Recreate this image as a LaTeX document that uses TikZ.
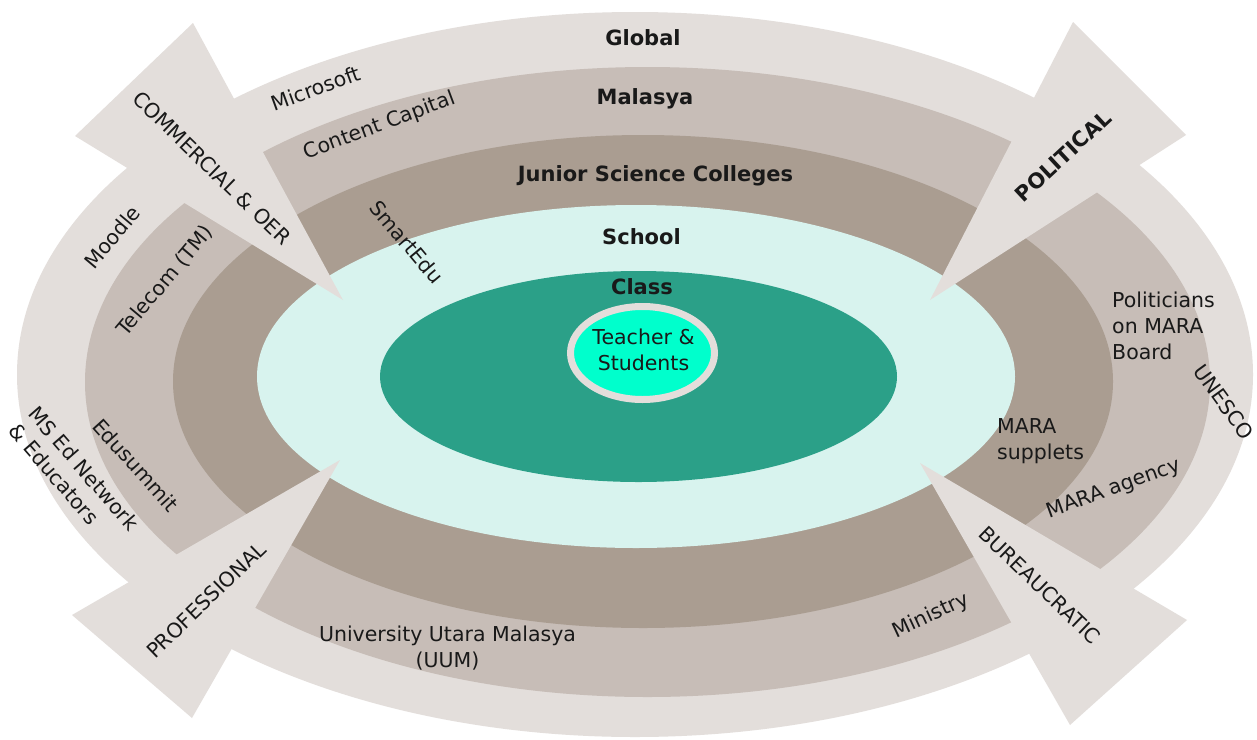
\documentclass[tikz,border=0pt]{standalone}
\usepackage{fontspec}
\setmainfont{DejaVu Sans}
\definecolor{outerc}{RGB}{227,222,219}
\definecolor{midc}{RGB}{199,189,183}
\definecolor{darkc}{RGB}{170,157,145}
\definecolor{schoolc}{RGB}{216,243,238}
\definecolor{classc}{RGB}{43,160,136}
\definecolor{aquac}{RGB}{0,255,204}
\definecolor{txtc}{RGB}{25,25,25}
\begin{document}
\begin{tikzpicture}[x=1pt,y=-1pt,
  lbl/.style={inner sep=0pt, text=txtc, font=\fontsize{20.5}{26}\selectfont},
  blbl/.style={inner sep=0pt, text=txtc, font=\fontsize{21}{26}\selectfont\bfseries},
  sl/.style={text depth=0pt},
  band/.style={draw=none},
  wedge/.style={fill=outerc, draw=none}]
\useasboundingbox (0,0) rectangle (1257,739);
\fill[white] (0,0) rectangle (1257,739);
% nested bands
\fill[outerc,band] (635,374.5) ellipse [x radius=618pt, y radius=362.5pt];
\fill[midc,band] (647.5,382) ellipse [x radius=562.5pt, y radius=315pt];
\fill[darkc,band] (643,381.5) ellipse [x radius=470pt, y radius=246.5pt];
\fill[schoolc,band] (636,376.5) ellipse [x radius=379pt, y radius=171.5pt];
% four inward arrows
\fill[wedge] (343,300) -- (75,136) -- (193,23) -- cycle;
\fill[wedge] (930,300) -- (1073,22) -- (1186,135) -- cycle;
\fill[wedge] (920,463) -- (1187,620) -- (1070,725) -- cycle;
\fill[wedge] (340,460) -- (72,615) -- (192,718) -- cycle;
% class and core
\fill[classc,band] (638.5,376.5) ellipse [x radius=258.5pt, y radius=105.5pt];
\filldraw[fill=aquac, draw=outerc, line width=7pt] (642.5,353) ellipse [x radius=72pt, y radius=46.5pt];
% level titles
\node[blbl,sl] (global) at (643,38) {Global};
\node[blbl,sl] (malasya) at (645,97) {Malasya};
\node[blbl,sl] (jsc) at (655.5,174) {Junior Science Colleges};
\node[blbl,sl] (school) at (641.5,237) {School};
\node[blbl,sl] (class) at (642,287) {Class};
\node[lbl,align=center] (ts) at (643.5,350) {Teacher \&\\Students};
% left side labels
\node[lbl,sl,rotate=20] (ms) at (316,88) {Microsoft};
\node[lbl,sl,rotate=20.5] (cc) at (379,124) {Content Capital};
\node[lbl,sl,rotate=-44] (comm) at (212,168) {COMMERCIAL \& OER};
\node[lbl,sl,rotate=50] (moodle) at (112,237) {Moodle};
\node[lbl,sl,rotate=50] (telecom) at (164,280) {Telecom (TM)};
\node[lbl,sl,rotate=-50] (smart) at (407,242) {SmartEdu};
\node[lbl,sl,rotate=-48] (edu) at (136,465) {Edusummit};
\node[lbl,align=left,rotate=-49] (msed) at (74,477) {MS Ed Network\\\& Educators};
\node[lbl,sl,rotate=44] (prof) at (206,600) {PROFESSIONAL};
\node[lbl,align=center] (uum) at (447.5,648) {University Utara Malasya\\(UUM)};
% right side labels
\node[lbl,sl,rotate=25] (ministry) at (930,614) {Ministry};
\node[lbl,sl,rotate=-44] (bur) at (1040,585) {BUREAUCRATIC};
\node[lbl,sl,rotate=20] (agency) at (1113,487) {MARA agency};
\node[lbl,align=left,anchor=west] (supp) at (997,441) {MARA\\supplets};
\node[lbl,align=left,anchor=west] (pol) at (1112,326) {Politicians\\on MARA\\Board};
\node[lbl,sl,rotate=-54] (unesco) at (1224,402) {UNESCO};
\node[blbl,sl,rotate=43] (political) at (1063,156) {POLITICAL};
\end{tikzpicture}
\end{document}
